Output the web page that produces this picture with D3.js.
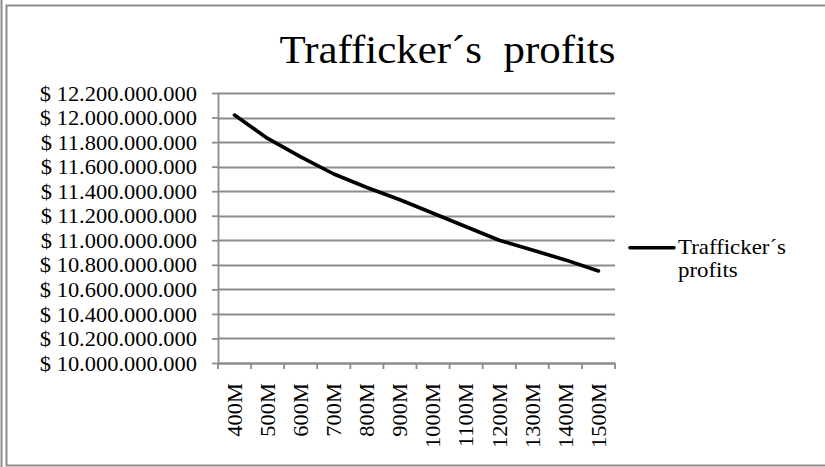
<!DOCTYPE html>
<html>
<head>
<meta charset="utf-8">
<script src="https://cdn.jsdelivr.net/npm/d3@7"></script>
<style>
  html, body { margin: 0; padding: 0; background: #fff; }
  svg { display: block; }
  text { font-family: "Liberation Serif", "Times New Roman", serif; fill: #000; }
</style>
</head>
<body>
<svg id="chart" width="825" height="467"></svg>
<script>
const titleText = "Trafficker\u00b4s  profits";
const seriesName = ["Trafficker\u00b4s", "profits"];
const categories = ["400M", "500M", "600M", "700M", "800M", "900M", "1000M", "1100M", "1200M", "1300M", "1400M", "1500M"];
const profits = [12.02e9, 11.83e9, 11.68e9, 11.54e9, 11.43e9, 11.33e9, 11.22e9, 11.11e9, 11.00e9, 10.92e9, 10.84e9, 10.75e9];
const yTicks = [10.0e9, 10.2e9, 10.4e9, 10.6e9, 10.8e9, 11.0e9, 11.2e9, 11.4e9, 11.6e9, 11.8e9, 12.0e9, 12.2e9];

const svg = d3.select("#chart");
const gridColor = "#8c8c8c";
const stretch = 1.07;

// frame
svg.append("line").attr("x1", 1.5).attr("x2", 1.5).attr("y1", 0).attr("y2", 467)
  .attr("stroke", gridColor).attr("stroke-width", 2);
svg.append("path").attr("d", "M830,5.5 H6.5 V465.5 H830")
  .attr("fill", "none").attr("stroke", gridColor).attr("stroke-width", 2);

const plot = { left: 218, right: 615, top: 93, bottom: 363 };

const x = d3.scaleBand().domain(categories).range([plot.left, plot.right]).padding(0);
const y = d3.scaleLinear().domain([10e9, 12.2e9]).range([plot.bottom, plot.top]);

const locale = d3.formatLocale({ decimal: ",", thousands: ".", grouping: [3], currency: ["$ ", ""] });
const fmt = locale.format("$,.0f");

// gridlines
svg.append("g").selectAll("line").data(yTicks).join("line")
  .attr("x1", plot.left).attr("x2", plot.right)
  .attr("y1", d => Math.round(y(d)) + 0.5).attr("y2", d => Math.round(y(d)) + 0.5)
  .attr("stroke", gridColor).attr("stroke-width", 1.8);

// y axis
const yAxis = svg.append("g").attr("transform", `translate(${plot.left},0)`)
  .call(d3.axisLeft(y).tickValues(yTicks).tickFormat(fmt).tickSize(6).tickSizeOuter(0));
yAxis.select(".domain").attr("stroke", gridColor).attr("stroke-width", 1.8);
yAxis.selectAll(".tick line").attr("stroke", gridColor).attr("stroke-width", 1.8);
yAxis.selectAll(".tick text")
  .attr("x", 0).attr("dy", "0.34em")
  .attr("transform", `translate(-21,0) scale(${stretch},1)`)
  .style("font-size", "21px")
  .style("font-family", "'Liberation Serif', serif")
  .attr("fill", "#000");

// x axis
const xAxis = svg.append("g").attr("transform", `translate(0,${plot.bottom})`)
  .call(d3.axisBottom(x).tickSize(0).tickSizeOuter(0).tickFormat(""));
xAxis.select(".domain").attr("stroke", gridColor).attr("stroke-width", 1.8);
xAxis.selectAll(".tick text").remove();
const boundaries = categories.map(c => x(c)).concat([x.range()[1]]);
xAxis.append("g").selectAll("line").data(boundaries).join("line")
  .attr("x1", d => d).attr("x2", d => d).attr("y1", 0).attr("y2", 6)
  .attr("stroke", gridColor).attr("stroke-width", 1.8);
xAxis.append("g").selectAll("text").data(categories).join("text")
  .attr("transform", d => `translate(${x(d) + x.bandwidth() / 2},20) rotate(-90) scale(${stretch},1)`)
  .attr("text-anchor", "end").attr("dy", "0.35em")
  .style("font-size", "21px")
  .text(d => d);

// line
const line = d3.line()
  .x((d, i) => x(categories[i]) + x.bandwidth() / 2)
  .y(d => y(d));
svg.append("path").datum(profits)
  .attr("d", line)
  .attr("fill", "none").attr("stroke", "#000").attr("stroke-width", 3.6)
  .attr("stroke-linecap", "round").attr("stroke-linejoin", "round");

// title
svg.append("text")
  .attr("transform", `translate(447.5,63) scale(1.1,1)`)
  .attr("text-anchor", "middle")
  .style("font-size", "39px")
  .style("white-space", "pre")
  .attr("xml:space", "preserve")
  .text(titleText);

// legend
const legend = svg.append("g").attr("transform", "translate(630,247.7)");
legend.append("line").attr("x1", 0).attr("x2", 44).attr("y1", 0).attr("y2", 0)
  .attr("stroke", "#000").attr("stroke-width", 3.6).attr("stroke-linecap", "round");
legend.selectAll("text").data(seriesName).join("text")
  .attr("transform", (d, i) => `translate(48,${6 + i * 23.5}) scale(1.09,1)`)
  .style("font-size", "21px")
  .text(d => d);
</script>
</body>
</html>
